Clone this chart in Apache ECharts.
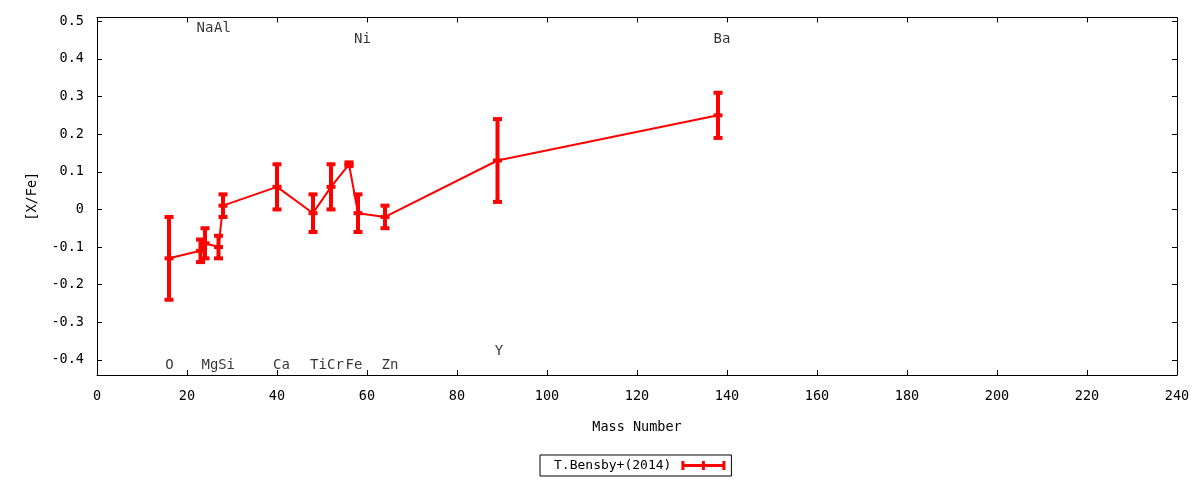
<!DOCTYPE html>
<html>
<head>
<meta charset="utf-8">
<script src="https://cdn.jsdelivr.net/npm/echarts@6/dist/echarts.min.js"></script>
<style>html,body{margin:0;padding:0;background:#fff}#c{width:1200px;height:480px}</style>
</head>
<body>
<div id="c"></div>
<script>
var massNumbers = [16, 23, 24, 27, 28, 40, 48, 52, 56, 58, 64, 89, 138];
var xfeValues  = [-0.13, -0.11, -0.09, -0.10, 0.01, 0.06, -0.01, 0.06, 0.12, -0.01, -0.02, 0.13, 0.25];
var xfeErrors  = [0.11, 0.03, 0.04, 0.03, 0.03, 0.06, 0.05, 0.06, 0.005, 0.05, 0.03, 0.11, 0.06];
var elementNames = ['O', 'Na', 'Mg', 'Al', 'Si', 'Ca', 'Ti', 'Cr', 'Fe', 'Ni', 'Zn', 'Y', 'Ba'];
var labelX = [16.1, 24, 25.1, 27.9, 28.8, 41, 49.2, 53, 57.1, 59, 65.1, 89.3, 138.9];
var labelY = [-0.415, 0.48, -0.415, 0.48, -0.415, -0.415, -0.415, -0.415, -0.415, 0.453, -0.415, -0.376, 0.453];
var yTicks = [-0.4, -0.3, -0.2, -0.1, 0, 0.1, 0.2, 0.3, 0.4, 0.5];
var seriesName = 'T.Bensby+(2014)';

var FONT = 'DejaVu Sans Mono';
var RED = '#ff0000';

var lineData = massNumbers.map(function (m, i) { return [m, xfeValues[i]]; });
var errData = massNumbers.map(function (m, i) { return [m, xfeValues[i], xfeErrors[i]]; });
var labelData = elementNames.map(function (n, i) { return { name: n, value: [labelX[i], labelY[i]] }; });

function fmtY(v) { var r = Math.round(v * 10) / 10; return String(r === 0 ? 0 : r); }

var chart = echarts.init(document.getElementById('c'), null, { renderer: 'canvas' });
function axisLine() { return { show: true, onZero: false, lineStyle: { color: '#000', width: 1 } }; }
function tick(custom) {
  var t = { show: true, inside: true, length: 5, lineStyle: { color: '#000', width: 1 } };
  if (custom) t.customValues = custom;
  return t;
}
chart.setOption({
  animation: false,
  backgroundColor: '#fff',
  grid: { left: 97, right: 23, top: 17.5, bottom: 105, containLabel: false },
  legend: {
    show: true,
    left: 540, top: 455,
    align: 'right',
    orient: 'horizontal',
    borderColor: '#000', borderWidth: 1, borderRadius: 0,
    padding: [4, 6, 4, 14],
    itemWidth: 44, itemHeight: 9,
    textStyle: { fontFamily: FONT, fontSize: 13, color: '#000', padding: [0, 5, 0, 0] },
    data: [{
      name: seriesName,
      icon: 'path://M0,3 H44 V6 H0 Z M0,0 H3 V9 H0 Z M20.5,0 H23.5 V9 H20.5 Z M41,0 H44 V9 H41 Z',
      itemStyle: { color: RED }
    }]
  },
  xAxis: [
    {
      type: 'value', min: 0, max: 240, interval: 20, position: 'bottom',
      axisLine: axisLine(), axisTick: tick(), splitLine: { show: false },
      name: 'Mass Number', nameLocation: 'middle', nameGap: 45,
      nameTextStyle: { fontFamily: FONT, fontSize: 13.5, color: '#000' },
      axisLabel: { fontFamily: FONT, fontSize: 13.5, color: '#000', margin: 14 }
    },
    {
      type: 'value', min: 0, max: 240, interval: 20, position: 'top',
      axisLine: axisLine(), axisTick: tick(), splitLine: { show: false },
      axisLabel: { show: false }
    }
  ],
  yAxis: [
    {
      type: 'value', min: -0.44, max: 0.51, position: 'left',
      axisLine: axisLine(), axisTick: tick(yTicks), splitLine: { show: false },
      name: '[X/Fe]', nameLocation: 'middle', nameGap: 58, nameRotate: 90,
      nameTextStyle: { fontFamily: FONT, fontSize: 13.5, color: '#000' },
      axisLabel: { fontFamily: FONT, fontSize: 13.5, color: '#000', margin: 13, customValues: yTicks, formatter: fmtY }
    },
    {
      type: 'value', min: -0.44, max: 0.51, position: 'right',
      axisLine: axisLine(), axisTick: tick(yTicks), splitLine: { show: false },
      axisLabel: { show: false, customValues: yTicks }
    }
  ],
  series: [
    {
      name: seriesName,
      type: 'line',
      xAxisIndex: 0, yAxisIndex: 0,
      data: lineData,
      symbol: 'none',
      lineStyle: { color: RED, width: 2 },
      itemStyle: { color: RED },
      z: 3
    },
    {
      name: seriesName,
      type: 'custom',
      xAxisIndex: 0, yAxisIndex: 0,
      data: errData,
      encode: { x: 0, y: 1 },
      itemStyle: { color: RED },
      renderItem: function (params, api) {
        var x = api.value(0), y = api.value(1), e = api.value(2);
        var pc = api.coord([x, y]);
        var pt = api.coord([x, y + e]);
        var pb = api.coord([x, y - e]);
        var st = { fill: RED };
        var bw = 4, cw = 9, ch = 4;
        return {
          type: 'group',
          children: [
            { type: 'rect', shape: { x: pc[0] - bw / 2, y: pt[1], width: bw, height: pb[1] - pt[1] }, style: st },
            { type: 'rect', shape: { x: pc[0] - cw / 2, y: pt[1] - ch / 2, width: cw, height: ch }, style: st },
            { type: 'rect', shape: { x: pc[0] - cw / 2, y: pb[1] - ch / 2, width: cw, height: ch }, style: st },
            { type: 'rect', shape: { x: pc[0] - cw / 2, y: pc[1] - ch / 2, width: cw, height: ch }, style: st }
          ]
        };
      },
      z: 4
    },
    {
      name: 'labels',
      type: 'scatter',
      xAxisIndex: 0, yAxisIndex: 0,
      data: labelData,
      symbolSize: 0,
      silent: true,
      label: {
        show: true, position: 'inside', formatter: '{b}',
        fontFamily: FONT, fontSize: 14, color: '#000'
      },
      z: 5
    }
  ]
});
</script>
</body>
</html>
